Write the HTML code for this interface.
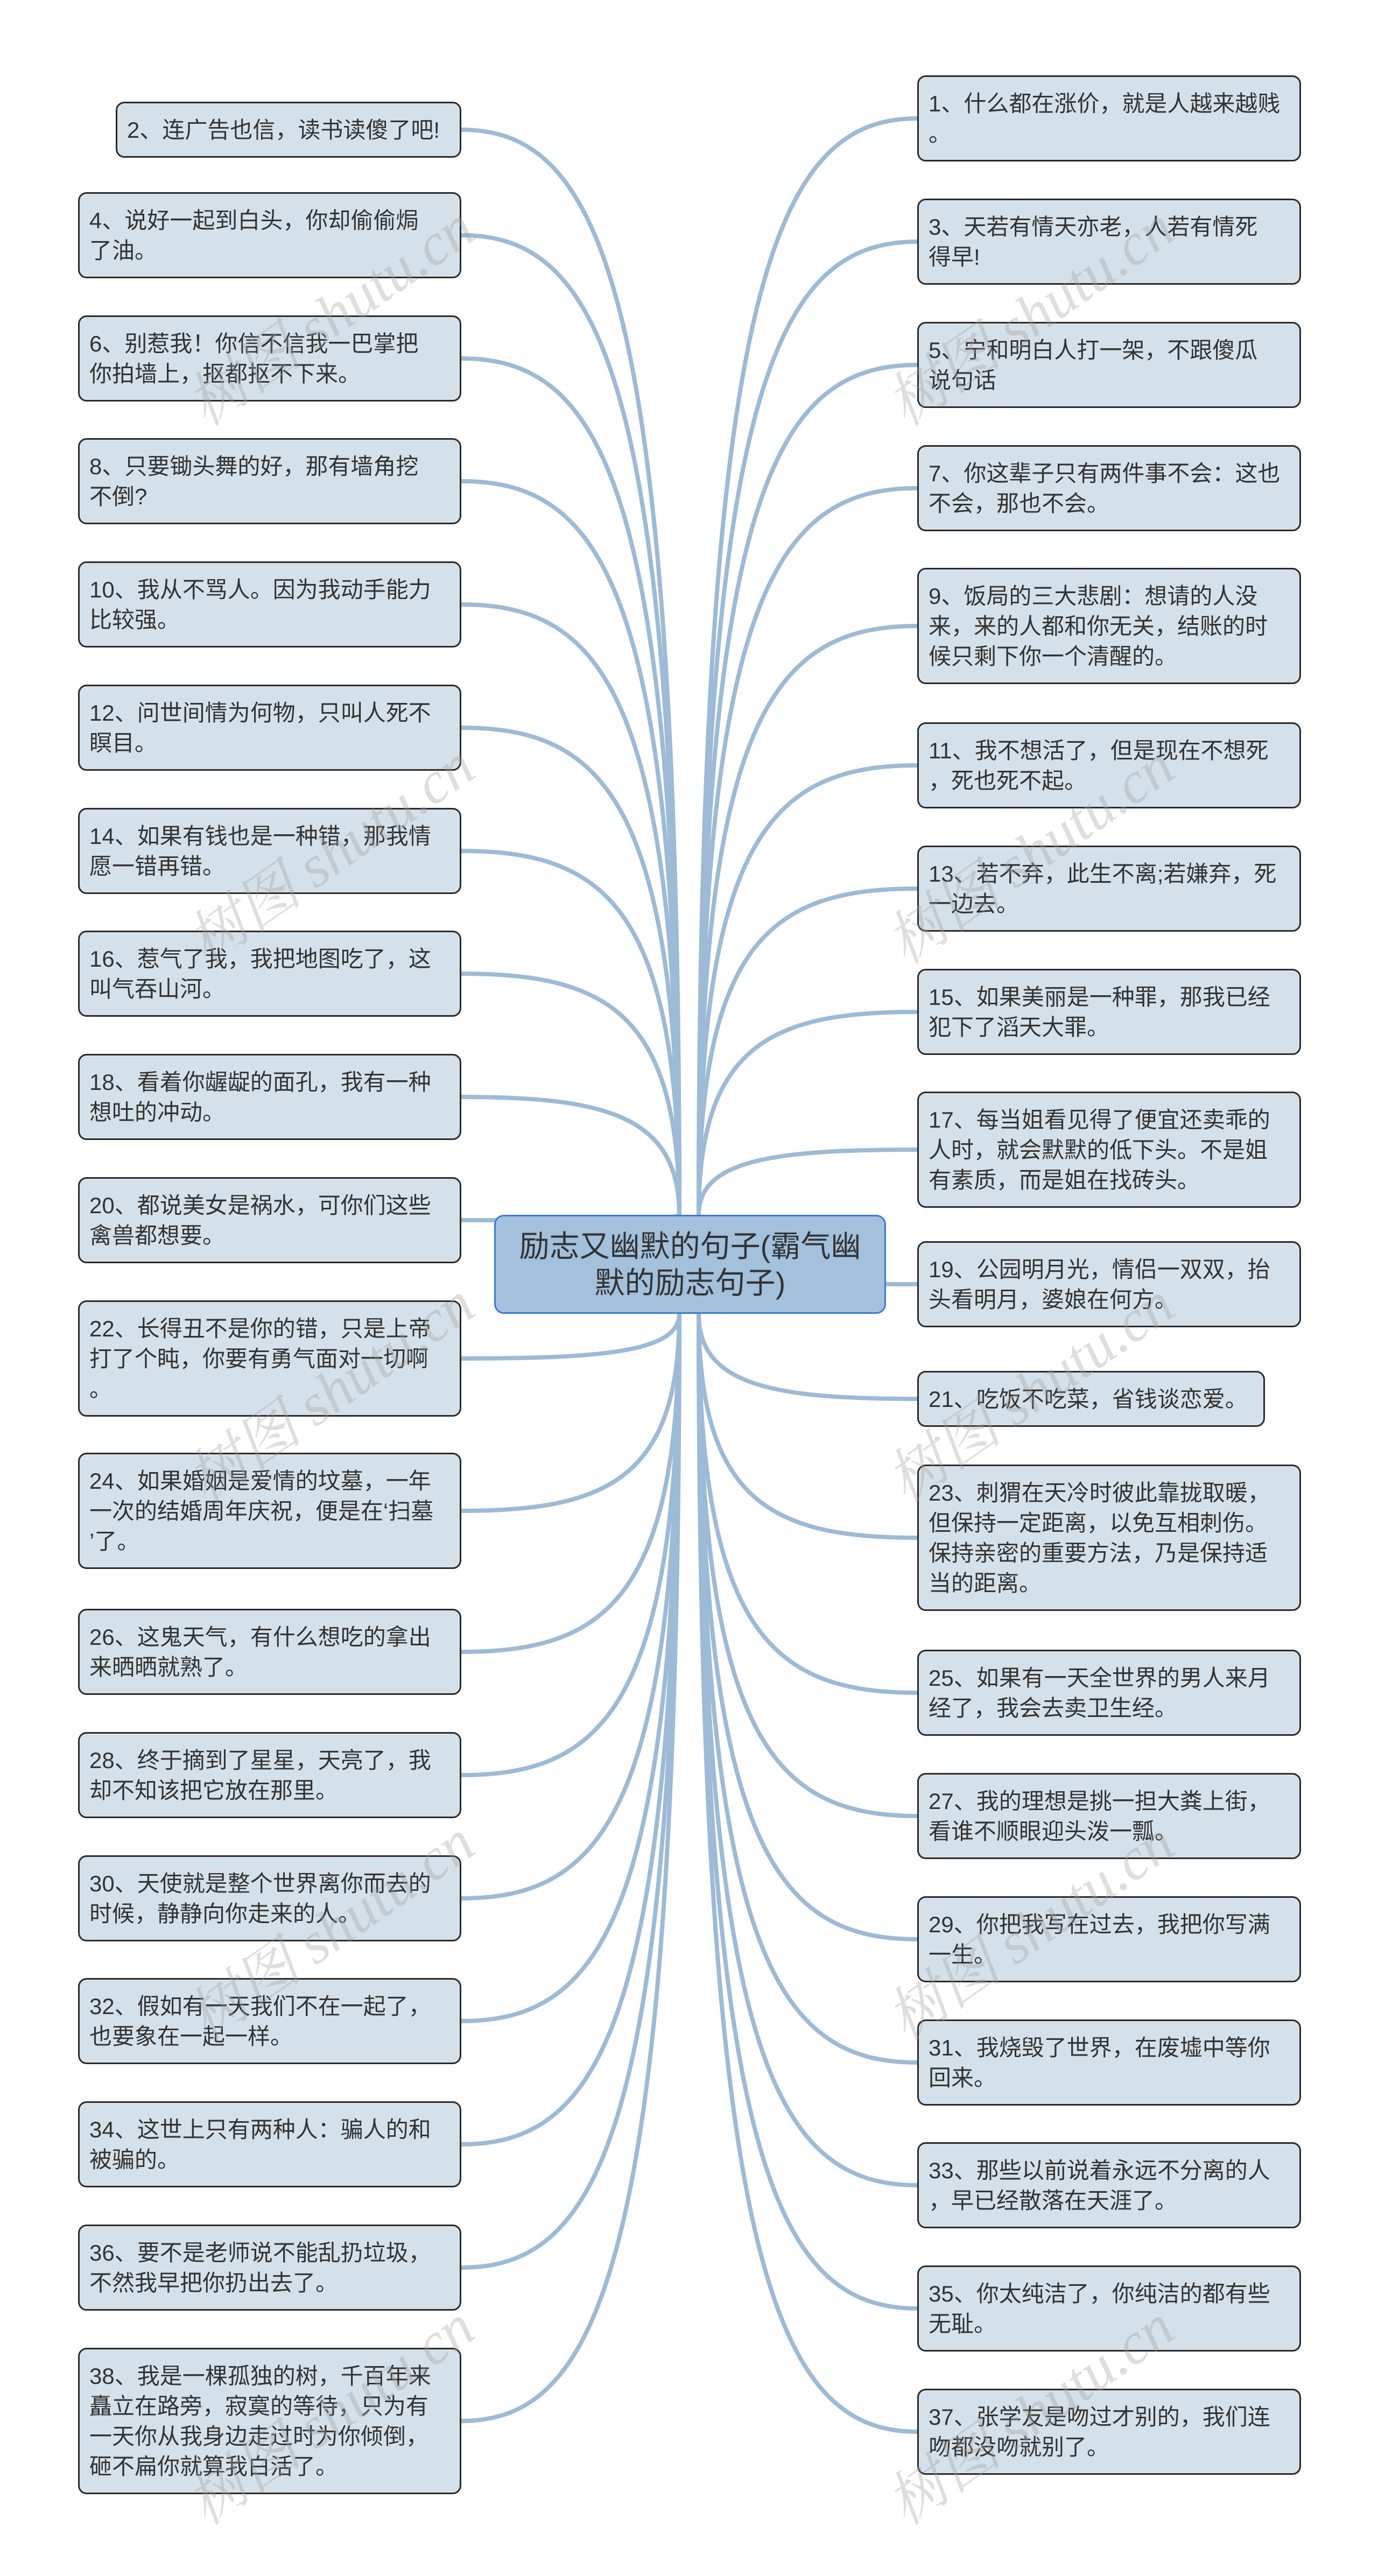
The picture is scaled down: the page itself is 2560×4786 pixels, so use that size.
<!DOCTYPE html>
<html><head><meta charset="utf-8"><style>
html,body{margin:0;padding:0;background:#fff}
body{width:2560px;height:4786px;position:relative;overflow:hidden;font-family:"Liberation Sans","Noto Sans CJK SC",sans-serif}
.n{position:absolute;box-sizing:border-box;background:#d5e1ea;border:3px solid #2a2a2a;border-radius:16px;padding:22px 18px;font-size:42px;line-height:56px;color:#333;white-space:nowrap}
.c{position:absolute;left:918px;top:2257px;width:728px;height:184px;box-sizing:border-box;background:#a3c0dc;border:3px solid #3d7ad8;border-radius:18px;font-size:56px;line-height:68px;color:#333;text-align:center;padding-top:22px}
svg{position:absolute;left:0;top:0}
.w{position:absolute;font-family:"Liberation Serif","Noto Serif CJK SC",serif;font-style:italic;font-size:110px;color:rgba(160,160,160,0.35);transform:rotate(-35deg);white-space:nowrap}
</style></head><body>
<svg width="2560" height="4786" id="s"></svg>
<div id="nodes"></div>
<div class="c">励志又幽默的句子(霸气幽<br>默的励志句子)</div>
<div class="w" style="left:300px;top:500px">树图 shutu.cn</div>
<div class="w" style="left:1600px;top:500px">树图 shutu.cn</div>
<div class="w" style="left:300px;top:1500px">树图 shutu.cn</div>
<div class="w" style="left:1600px;top:1500px">树图 shutu.cn</div>
<div class="w" style="left:300px;top:2500px">树图 shutu.cn</div>
<div class="w" style="left:1600px;top:2500px">树图 shutu.cn</div>
<div class="w" style="left:300px;top:3500px">树图 shutu.cn</div>
<div class="w" style="left:1600px;top:3500px">树图 shutu.cn</div>
<div class="w" style="left:300px;top:4400px">树图 shutu.cn</div>
<div class="w" style="left:1600px;top:4400px">树图 shutu.cn</div>
<script>
var L=[
[62,["2、连广告也信，读书读傻了吧!"],215],
[117,["4、说好一起到白头，你却偷偷焗","了油。"]],
[192,["6、别惹我！你信不信我一巴掌把","你拍墙上，抠都抠不下来。"]],
[267,["8、只要锄头舞的好，那有墙角挖","不倒?"]],
[342,["10、我从不骂人。因为我动手能力","比较强。"]],
[417,["12、问世间情为何物，只叫人死不","瞑目。"]],
[492,["14、如果有钱也是一种错，那我情","愿一错再错。"]],
[567,["16、惹气了我，我把地图吃了，这","叫气吞山河。"]],
[642,["18、看着你龌龊的面孔，我有一种","想吐的冲动。"]],
[717,["20、都说美女是祸水，可你们这些","禽兽都想要。"]],
[792,["22、长得丑不是你的错，只是上帝","打了个盹，你要有勇气面对一切啊","。"]],
[885,["24、如果婚姻是爱情的坟墓，一年","一次的结婚周年庆祝，便是在‘扫墓","’了。"]],
[980,["26、这鬼天气，有什么想吃的拿出","来晒晒就熟了。"]],
[1055,["28、终于摘到了星星，天亮了，我","却不知该把它放在那里。"]],
[1130,["30、天使就是整个世界离你而去的","时候，静静向你走来的人。"]],
[1205,["32、假如有一天我们不在一起了，","也要象在一起一样。"]],
[1280,["34、这世上只有两种人：骗人的和","被骗的。"]],
[1355,["36、要不是老师说不能乱扔垃圾，","不然我早把你扔出去了。"]],
[1430,["38、我是一棵孤独的树，千百年来","矗立在路旁，寂寞的等待，只为有","一天你从我身边走过时为你倾倒，","砸不扁你就算我白活了。"]]
];
var R=[
[46,["1、什么都在涨价，就是人越来越贱","。"]],
[121,["3、天若有情天亦老，人若有情死","得早!"]],
[196,["5、宁和明白人打一架，不跟傻瓜","说句话"]],
[271,["7、你这辈子只有两件事不会：这也","不会，那也不会。"]],
[346,["9、饭局的三大悲剧：想请的人没","来，来的人都和你无关，结账的时","候只剩下你一个清醒的。"]],
[440,["11、我不想活了，但是现在不想死","，死也死不起。"]],
[515,["13、若不弃，此生不离;若嫌弃，死","一边去。"]],
[590,["15、如果美丽是一种罪，那我已经","犯下了滔天大罪。"]],
[665,["17、每当姐看见得了便宜还卖乖的","人时，就会默默的低下头。不是姐","有素质，而是姐在找砖头。"]],
[756,["19、公园明月光，情侣一双双，抬","头看明月，婆娘在何方。"]],
[835,["21、吃饭不吃菜，省钱谈恋爱。"],0,2350],
[892,["23、刺猬在天冷时彼此靠拢取暖，","但保持一定距离，以免互相刺伤。","保持亲密的重要方法，乃是保持适","当的距离。"]],
[1005,["25、如果有一天全世界的男人来月","经了，我会去卖卫生经。"]],
[1080,["27、我的理想是挑一担大粪上街，","看谁不顺眼迎头泼一瓢。"]],
[1155,["29、你把我写在过去，我把你写满","一生。"]],
[1230,["31、我烧毁了世界，在废墟中等你","回来。"]],
[1305,["33、那些以前说着永远不分离的人","，早已经散落在天涯了。"]],
[1380,["35、你太纯洁了，你纯洁的都有些","无耻。"]],
[1455,["37、张学友是吻过才别的，我们连","吻都没吻就别了。"]]
];
var h='',p='',RX=1704,RR=2417;
function path(ex,ey,left){
 var cy=2349, sx=left?1262:1298, sy, d;
 if(Math.abs(ey-cy)<80){ if(left){sx=918;}else{sx=1646;}
   d='M'+sx+','+ey+' L'+ex+','+ey;}
 else{ sy= ey<cy?2257:2441;
   var dx=ex-sx;
   d='M'+sx+','+sy+' C'+sx+','+(sy+(ey-sy)*0.85)+' '+(sx+dx*0.35)+','+ey+' '+ex+','+ey;}
 return '<path d="'+d+'" fill="none" stroke="#9dbad6" stroke-width="8"/>';
}
L.forEach(function(n){var t=Math.round(n[0]*3.05),H=48+56*n[1].length,x=n[2]||145;
 h+='<div class="n" style="left:'+x+'px;top:'+t+'px;width:'+(857-x)+'px;height:'+H+'px">'+n[1].join('<br>')+'</div>';
 p+=path(857,t+H/2,true);});
R.forEach(function(n){var t=Math.round(n[0]*3.05),H=48+56*n[1].length,r=n[3]||RR;
 h+='<div class="n" style="left:'+RX+'px;top:'+t+'px;width:'+(r-RX)+'px;height:'+H+'px">'+n[1].join('<br>')+'</div>';
 p+=path(RX,t+H/2,false);});
document.getElementById('nodes').innerHTML=h;
document.getElementById('s').innerHTML=p;
</script>
</body></html>
